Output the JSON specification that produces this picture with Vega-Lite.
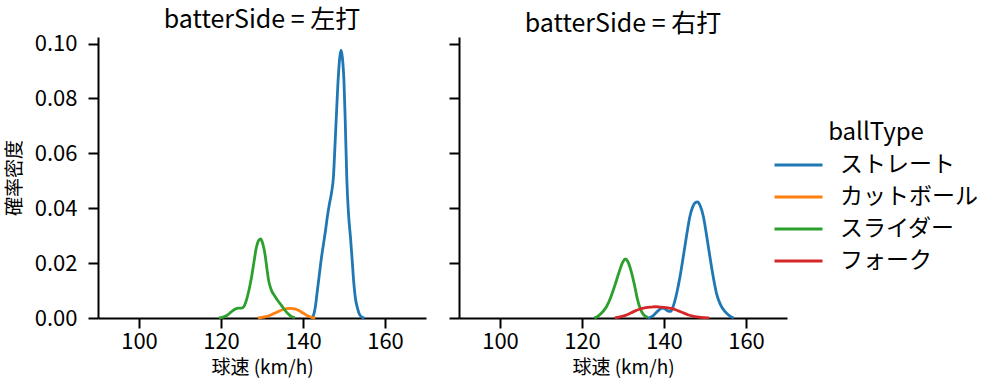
{
  "$schema": "https://vega.github.io/schema/vega-lite/v6.json",
  "padding": {"left": 5, "top": 7, "right": 5, "bottom": 2},
  "datasets": {
    "kde": [
      {"side": "左打", "ballType": "ストレート", "speed": 142, "density": 0},
      {"side": "左打", "ballType": "ストレート", "speed": 142.5, "density": 0.0008},
      {"side": "左打", "ballType": "ストレート", "speed": 143, "density": 0.004},
      {"side": "左打", "ballType": "ストレート", "speed": 143.5, "density": 0.010},
      {"side": "左打", "ballType": "ストレート", "speed": 144, "density": 0.016},
      {"side": "左打", "ballType": "ストレート", "speed": 144.5, "density": 0.022},
      {"side": "左打", "ballType": "ストレート", "speed": 145, "density": 0.027},
      {"side": "左打", "ballType": "ストレート", "speed": 145.5, "density": 0.032},
      {"side": "左打", "ballType": "ストレート", "speed": 146, "density": 0.0375},
      {"side": "左打", "ballType": "ストレート", "speed": 146.5, "density": 0.042},
      {"side": "左打", "ballType": "ストレート", "speed": 147, "density": 0.046},
      {"side": "左打", "ballType": "ストレート", "speed": 147.4, "density": 0.051},
      {"side": "左打", "ballType": "ストレート", "speed": 147.9, "density": 0.066},
      {"side": "左打", "ballType": "ストレート", "speed": 148.5, "density": 0.085},
      {"side": "左打", "ballType": "ストレート", "speed": 148.9, "density": 0.094},
      {"side": "左打", "ballType": "ストレート", "speed": 149.25, "density": 0.0976},
      {"side": "左打", "ballType": "ストレート", "speed": 149.6, "density": 0.095},
      {"side": "左打", "ballType": "ストレート", "speed": 150, "density": 0.086},
      {"side": "左打", "ballType": "ストレート", "speed": 150.3, "density": 0.072},
      {"side": "左打", "ballType": "ストレート", "speed": 150.7, "density": 0.050},
      {"side": "左打", "ballType": "ストレート", "speed": 151.1, "density": 0.038},
      {"side": "左打", "ballType": "ストレート", "speed": 151.6, "density": 0.029},
      {"side": "左打", "ballType": "ストレート", "speed": 152, "density": 0.021},
      {"side": "左打", "ballType": "ストレート", "speed": 152.4, "density": 0.0126},
      {"side": "左打", "ballType": "ストレート", "speed": 152.8, "density": 0.007},
      {"side": "左打", "ballType": "ストレート", "speed": 153.3, "density": 0.0035},
      {"side": "左打", "ballType": "ストレート", "speed": 153.8, "density": 0.0012},
      {"side": "左打", "ballType": "ストレート", "speed": 154.5, "density": 0.0002},
      {"side": "左打", "ballType": "ストレート", "speed": 155, "density": 0},

      {"side": "左打", "ballType": "カットボール", "speed": 129, "density": 0},
      {"side": "左打", "ballType": "カットボール", "speed": 130, "density": 0.0002},
      {"side": "左打", "ballType": "カットボール", "speed": 131, "density": 0.0005},
      {"side": "左打", "ballType": "カットボール", "speed": 132, "density": 0.0010},
      {"side": "左打", "ballType": "カットボール", "speed": 133, "density": 0.0017},
      {"side": "左打", "ballType": "カットボール", "speed": 134, "density": 0.0024},
      {"side": "左打", "ballType": "カットボール", "speed": 135, "density": 0.0030},
      {"side": "左打", "ballType": "カットボール", "speed": 136, "density": 0.0034},
      {"side": "左打", "ballType": "カットボール", "speed": 137, "density": 0.0035},
      {"side": "左打", "ballType": "カットボール", "speed": 138, "density": 0.0033},
      {"side": "左打", "ballType": "カットボール", "speed": 139, "density": 0.0027},
      {"side": "左打", "ballType": "カットボール", "speed": 140, "density": 0.0018},
      {"side": "左打", "ballType": "カットボール", "speed": 141, "density": 0.0009},
      {"side": "左打", "ballType": "カットボール", "speed": 142, "density": 0.0003},
      {"side": "左打", "ballType": "カットボール", "speed": 143, "density": 0},

      {"side": "左打", "ballType": "スライダー", "speed": 119.5, "density": 0},
      {"side": "左打", "ballType": "スライダー", "speed": 120.5, "density": 0.0003},
      {"side": "左打", "ballType": "スライダー", "speed": 121.5, "density": 0.0010},
      {"side": "左打", "ballType": "スライダー", "speed": 122.5, "density": 0.0022},
      {"side": "左打", "ballType": "スライダー", "speed": 123.5, "density": 0.0033},
      {"side": "左打", "ballType": "スライダー", "speed": 124.2, "density": 0.0036},
      {"side": "左打", "ballType": "スライダー", "speed": 125, "density": 0.0036},
      {"side": "左打", "ballType": "スライダー", "speed": 125.6, "density": 0.0042},
      {"side": "左打", "ballType": "スライダー", "speed": 126.2, "density": 0.0065},
      {"side": "左打", "ballType": "スライダー", "speed": 126.8, "density": 0.010},
      {"side": "左打", "ballType": "スライダー", "speed": 127.4, "density": 0.0145},
      {"side": "左打", "ballType": "スライダー", "speed": 128, "density": 0.020},
      {"side": "左打", "ballType": "スライダー", "speed": 128.6, "density": 0.0255},
      {"side": "左打", "ballType": "スライダー", "speed": 129.2, "density": 0.0283},
      {"side": "左打", "ballType": "スライダー", "speed": 129.7, "density": 0.0288},
      {"side": "左打", "ballType": "スライダー", "speed": 130.2, "density": 0.0270},
      {"side": "左打", "ballType": "スライダー", "speed": 130.7, "density": 0.0235},
      {"side": "左打", "ballType": "スライダー", "speed": 131.2, "density": 0.018},
      {"side": "左打", "ballType": "スライダー", "speed": 131.6, "density": 0.0138},
      {"side": "左打", "ballType": "スライダー", "speed": 132.2, "density": 0.0105},
      {"side": "左打", "ballType": "スライダー", "speed": 133.1, "density": 0.0080},
      {"side": "左打", "ballType": "スライダー", "speed": 134, "density": 0.0060},
      {"side": "左打", "ballType": "スライダー", "speed": 134.7, "density": 0.0047},
      {"side": "左打", "ballType": "スライダー", "speed": 135.5, "density": 0.0030},
      {"side": "左打", "ballType": "スライダー", "speed": 136.3, "density": 0.0016},
      {"side": "左打", "ballType": "スライダー", "speed": 137, "density": 0.0007},
      {"side": "左打", "ballType": "スライダー", "speed": 138, "density": 0.0001},

      {"side": "右打", "ballType": "ストレート", "speed": 136, "density": 0},
      {"side": "右打", "ballType": "ストレート", "speed": 137, "density": 0.0005},
      {"side": "右打", "ballType": "ストレート", "speed": 138, "density": 0.0018},
      {"side": "右打", "ballType": "ストレート", "speed": 139, "density": 0.0032},
      {"side": "右打", "ballType": "ストレート", "speed": 139.6, "density": 0.0036},
      {"side": "右打", "ballType": "ストレート", "speed": 140.3, "density": 0.0033},
      {"side": "右打", "ballType": "ストレート", "speed": 141, "density": 0.0025},
      {"side": "右打", "ballType": "ストレート", "speed": 141.6, "density": 0.0024},
      {"side": "右打", "ballType": "ストレート", "speed": 142.3, "density": 0.0045},
      {"side": "右打", "ballType": "ストレート", "speed": 143.1, "density": 0.009},
      {"side": "右打", "ballType": "ストレート", "speed": 143.9, "density": 0.015},
      {"side": "右打", "ballType": "ストレート", "speed": 144.7, "density": 0.0223},
      {"side": "右打", "ballType": "ストレート", "speed": 145.5, "density": 0.030},
      {"side": "右打", "ballType": "ストレート", "speed": 146.3, "density": 0.0369},
      {"side": "右打", "ballType": "ストレート", "speed": 147, "density": 0.0405},
      {"side": "右打", "ballType": "ストレート", "speed": 147.6, "density": 0.0420},
      {"side": "右打", "ballType": "ストレート", "speed": 148.2, "density": 0.0423},
      {"side": "右打", "ballType": "ストレート", "speed": 148.8, "density": 0.0410},
      {"side": "右打", "ballType": "ストレート", "speed": 149.6, "density": 0.0370},
      {"side": "右打", "ballType": "ストレート", "speed": 150.4, "density": 0.030},
      {"side": "右打", "ballType": "ストレート", "speed": 151.2, "density": 0.0223},
      {"side": "右打", "ballType": "ストレート", "speed": 152, "density": 0.015},
      {"side": "右打", "ballType": "ストレート", "speed": 152.8, "density": 0.009},
      {"side": "右打", "ballType": "ストレート", "speed": 153.8, "density": 0.0048},
      {"side": "右打", "ballType": "ストレート", "speed": 154.9, "density": 0.0023},
      {"side": "右打", "ballType": "ストレート", "speed": 156, "density": 0.0008},
      {"side": "右打", "ballType": "ストレート", "speed": 157, "density": 0},

      {"side": "右打", "ballType": "スライダー", "speed": 123, "density": 0},
      {"side": "右打", "ballType": "スライダー", "speed": 124, "density": 0.0008},
      {"side": "右打", "ballType": "スライダー", "speed": 125, "density": 0.0022},
      {"side": "右打", "ballType": "スライダー", "speed": 126, "density": 0.0042},
      {"side": "右打", "ballType": "スライダー", "speed": 127, "density": 0.0075},
      {"side": "右打", "ballType": "スライダー", "speed": 128, "density": 0.0118},
      {"side": "右打", "ballType": "スライダー", "speed": 129, "density": 0.0165},
      {"side": "右打", "ballType": "スライダー", "speed": 130, "density": 0.0205},
      {"side": "右打", "ballType": "スライダー", "speed": 130.6, "density": 0.0215},
      {"side": "右打", "ballType": "スライダー", "speed": 131.2, "density": 0.0205},
      {"side": "右打", "ballType": "スライダー", "speed": 132, "density": 0.0170},
      {"side": "右打", "ballType": "スライダー", "speed": 132.8, "density": 0.0120},
      {"side": "右打", "ballType": "スライダー", "speed": 133.5, "density": 0.0070},
      {"side": "右打", "ballType": "スライダー", "speed": 134.2, "density": 0.0035},
      {"side": "右打", "ballType": "スライダー", "speed": 135, "density": 0.0012},
      {"side": "右打", "ballType": "スライダー", "speed": 136, "density": 0.0002},

      {"side": "右打", "ballType": "フォーク", "speed": 128, "density": 0},
      {"side": "右打", "ballType": "フォーク", "speed": 129, "density": 0.0003},
      {"side": "右打", "ballType": "フォーク", "speed": 130, "density": 0.0007},
      {"side": "右打", "ballType": "フォーク", "speed": 131, "density": 0.0012},
      {"side": "右打", "ballType": "フォーク", "speed": 132, "density": 0.0019},
      {"side": "右打", "ballType": "フォーク", "speed": 133, "density": 0.0026},
      {"side": "右打", "ballType": "フォーク", "speed": 134, "density": 0.0032},
      {"side": "右打", "ballType": "フォーク", "speed": 135, "density": 0.0036},
      {"side": "右打", "ballType": "フォーク", "speed": 136, "density": 0.0039},
      {"side": "右打", "ballType": "フォーク", "speed": 137, "density": 0.0040},
      {"side": "右打", "ballType": "フォーク", "speed": 138, "density": 0.0041},
      {"side": "右打", "ballType": "フォーク", "speed": 139, "density": 0.0040},
      {"side": "右打", "ballType": "フォーク", "speed": 140, "density": 0.0039},
      {"side": "右打", "ballType": "フォーク", "speed": 141, "density": 0.0037},
      {"side": "右打", "ballType": "フォーク", "speed": 142, "density": 0.0034},
      {"side": "右打", "ballType": "フォーク", "speed": 143, "density": 0.0029},
      {"side": "右打", "ballType": "フォーク", "speed": 144, "density": 0.0023},
      {"side": "右打", "ballType": "フォーク", "speed": 145, "density": 0.0017},
      {"side": "右打", "ballType": "フォーク", "speed": 146, "density": 0.0011},
      {"side": "右打", "ballType": "フォーク", "speed": 147, "density": 0.0007},
      {"side": "右打", "ballType": "フォーク", "speed": 148, "density": 0.0004},
      {"side": "右打", "ballType": "フォーク", "speed": 149, "density": 0.0002},
      {"side": "右打", "ballType": "フォーク", "speed": 150, "density": 0.0001},
      {"side": "右打", "ballType": "フォーク", "speed": 151, "density": 0}
    ]
  },
  "spacing": 22,
  "hconcat": [
    {
      "width": 328,
      "height": 281,
      "title": "batterSide = 左打",
      "data": {"name": "kde"},
      "transform": [{"filter": "datum.side === '左打'"}],
      "mark": {"type": "line", "strokeWidth": 2.8, "interpolate": "monotone"},
      "encoding": {
        "x": {"field": "speed", "type": "quantitative", "title": "球速 (km/h)",
              "scale": {"domain": [90, 170], "nice": false, "zero": false},
              "axis": {"values": [100, 120, 140, 160]}},
        "y": {"field": "density", "type": "quantitative", "title": "確率密度",
              "scale": {"domain": [0, 0.1024], "nice": false},
              "axis": {"values": [0, 0.02, 0.04, 0.06, 0.08, 0.1], "format": ".2f"}},
        "color": {"field": "ballType", "type": "nominal",
                  "scale": {"domain": ["ストレート", "カットボール", "スライダー", "フォーク"],
                            "range": ["#1f77b4", "#ff7f0e", "#2ca02c", "#d62728"]},
                  "legend": {"orient": "none", "legendX": 675, "legendY": 84, "title": "ballType"}}
      }
    },
    {
      "width": 328,
      "height": 281,
      "title": "batterSide = 右打",
      "data": {"name": "kde"},
      "transform": [{"filter": "datum.side === '右打'"}],
      "mark": {"type": "line", "strokeWidth": 2.8, "interpolate": "monotone"},
      "encoding": {
        "x": {"field": "speed", "type": "quantitative", "title": "球速 (km/h)",
              "scale": {"domain": [90, 170], "nice": false, "zero": false},
              "axis": {"values": [100, 120, 140, 160]}},
        "y": {"field": "density", "type": "quantitative", "title": null,
              "scale": {"domain": [0, 0.1024], "nice": false},
              "axis": {"values": [0, 0.02, 0.04, 0.06, 0.08, 0.1], "labels": false}},
        "color": {"field": "ballType", "type": "nominal",
                  "scale": {"domain": ["ストレート", "カットボール", "スライダー", "フォーク"],
                            "range": ["#1f77b4", "#ff7f0e", "#2ca02c", "#d62728"]}}
      }
    }
  ],
  "config": {
    "font": "Noto Sans CJK JP",
    "view": {"stroke": null},
    "axis": {
      "grid": false,
      "domainColor": "black", "domainWidth": 2,
      "tickColor": "black", "tickWidth": 2, "tickSize": 10,
      "labelFontSize": 22, "labelColor": "black", "labelPadding": 8,
      "titleFontSize": 19, "titleColor": "black", "titleFontWeight": "normal"
    },
    "axisY": {"labelPadding": 11, "titlePadding": 10},
    "axisX": {"labelPadding": 3, "titlePadding": 6},
    "title": {"fontSize": 25, "fontWeight": "normal", "color": "black", "offset": 0.01},
    "legend": {
      "titleFontSize": 24, "titleFontWeight": "normal", "titleColor": "black",
      "titleAnchor": "middle", "titlePadding": 4,
      "labelFontSize": 23, "labelColor": "black", "labelOffset": 16,
      "symbolType": "stroke", "symbolSize": 2304, "symbolStrokeWidth": 3,
      "rowPadding": 0, "clipHeight": 32
    }
  }
}
